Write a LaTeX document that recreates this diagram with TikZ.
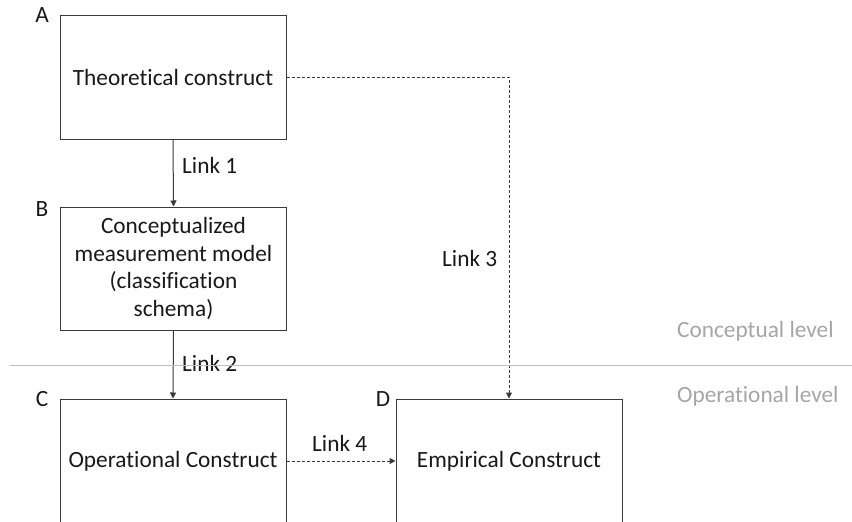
\documentclass[tikz,border=0pt]{standalone}
\usepackage{fontspec}
\setmainfont[Ligatures=NoCommon,RawFeature={-liga;-clig}]{Carlito}
\usetikzlibrary{arrows.meta,positioning}
\definecolor{boxline}{HTML}{3A3A3A}
\definecolor{levelgray}{HTML}{A6A6A6}
\definecolor{sepgray}{HTML}{BFBFBF}
\tikzset{
  basefont/.style={font=\fontsize{23.3}{27.7}\selectfont},
  construct/.style={draw=boxline, line width=1pt, minimum width=226, minimum height=124, inner sep=0pt, align=center, basefont, text=black!90},
  letter/.style={basefont, text=black!90, inner sep=0pt},
  linklabel/.style={basefont, text=black!90, inner sep=0pt, anchor=west},
  levellabel/.style={basefont, text=levelgray, inner sep=0pt, anchor=west},
  solidlink/.style={draw=boxline, line width=1pt, -{Triangle[length=6,width=6]}},
  dashlink/.style={draw=boxline, line width=1pt, dash pattern=on 3pt off 2pt, -{Triangle[length=6,width=6]}},
  sepline/.style={draw=sepgray, line width=1pt}
}
\begin{document}
\begin{tikzpicture}[x=1pt,y=-1pt]
\clip (0,0) rectangle (852,522);
\fill[white] (0,0) rectangle (852,522);

\node[construct] (A) at (173,77) {Theoretical construct};
\node[construct, minimum height=123] (B) at (173.5,268.5) {Conceptualized\\measurement model\\(classification\\schema)};
\node[construct] (C) at (173,461) {Operational Construct};
\node[construct] (D) at (509,461) {Empirical Construct};

\node[letter] (la) at (42,15.5) {A};
\node[letter] (lb) at (42,209) {B};
\node[letter] (lc) at (42,399) {C};
\node[letter] (ld) at (383,399) {D};

\draw[solidlink] (A.south) -- (B.north);
\draw[solidlink] (B.south) -- (C.north);
\draw[dashlink] (A.east) -| (D.north);
\draw[dashlink] (C.east) -- (D.west);

\node[linklabel] (l1) at (182,165) {Link 1};
\node[linklabel] (l2) at (182,363) {Link 2};
\node[linklabel] (l3) at (442,258) {Link 3};
\node[linklabel] (l4) at (312,443) {Link 4};

\coordinate (sepL) at (10,365);
\coordinate (sepR) at (852,365);
\draw[sepline] (sepL) -- (sepR);

\node[levellabel] (cl) at (677,331) {Conceptual level};
\node[levellabel] (ol) at (677,396) {Operational level};
\end{tikzpicture}
\end{document}
